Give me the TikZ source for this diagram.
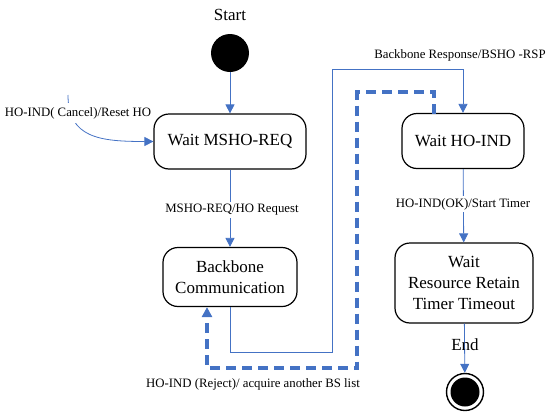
\documentclass[tikz,border=0pt]{standalone}
\usepackage{fontspec}
\setmainfont{Liberation Serif}
\usetikzlibrary{arrows.meta}
\definecolor{lblue}{RGB}{68,114,196}
\tikzset{
  state/.style={draw=black, line width=1.2pt, rounded corners=15pt, align=center, font=\fontsize{17}{21}\selectfont, inner sep=0pt},
  arr/.style={draw=lblue, line width=0.8pt, -{Triangle[length=9pt,width=9pt]}},
  darr/.style={draw=lblue, line width=3.2pt, dash pattern=on 10pt off 6pt, -{Triangle[length=10pt,width=10pt]}},
  lbl/.style={font=\fontsize{12.8}{14}\selectfont, fill=white, inner sep=2pt},
  big/.style={font=\fontsize{17}{21}\selectfont}
}
\begin{document}
\begin{tikzpicture}[x=1pt,y=-1pt]
\useasboundingbox (0,0) rectangle (550,413);
\node[big] (starttxt) at (230,15) {Start};
\node[circle, fill=black, minimum size=38pt, inner sep=0pt] (start) at (230,53) {};
\node[state, minimum width=152pt, minimum height=55pt] (msho) at (230,141.5) {Wait MSHO-REQ};
\node[state, minimum width=134pt, minimum height=59pt] (bb) at (230,277) {Backbone\\Communication};
\node[state, minimum width=122pt, minimum height=55pt] (hoind) at (463,141) {Wait HO-IND};
\node[state, minimum width=138pt, minimum height=80pt] (timer) at (464,283) {Wait\\Resource Retain\\Timer Timeout};
\node[circle, draw=black, line width=1.4pt, minimum size=37pt, inner sep=0pt] (endc) at (465,392) {};
\node[circle, fill=black, minimum size=29pt, inner sep=0pt] (endin) at (465,392) {};

% start -> msho
\draw[arr] (start) -- (msho);
% msho -> bb
\draw[arr] (msho) -- (bb);
\node[lbl] (l1) at (232,210) {MSHO-REQ/HO Request};
% cancel
\coordinate (c0) at (68,95);
\draw[arr] (c0) .. controls (68,138) and (100,141.5) .. (msho.west);
\node[lbl, inner ysep=4pt] (l2) at (78,113) {HO-IND( Cancel)/Reset HO};
% bb -> hoind
\coordinate (c1) at (332,352);
\coordinate (c2) at (332,69);
\draw[arr] (bb.south) |- (c1) -- (c2) -| (hoind.north);
\node[font=\fontsize{12.8}{14}\selectfont] (l3) at (460,55) {Backbone Response/BSHO -RSP};
% dashed reject
\coordinate (d0) at (434,113.5);
\coordinate (d1) at (357,92);
\coordinate (d2) at (207,368);
\draw[darr] (d0) |- (d1) |- (d2) -- (d2 |- bb.south);
\node[font=\fontsize{12.8}{14}\selectfont] (l4) at (253,384) {HO-IND (Reject)/ acquire another BS list};
% hoind -> timer
\draw[arr] (hoind) -- (timer);
\node[lbl] (l5) at (463,204) {HO-IND(OK)/Start Timer};
% timer -> end
\draw[arr] (timer) -- (endc);
\node[big] (endtxt) at (465,345) {End};
\end{tikzpicture}
\end{document}
